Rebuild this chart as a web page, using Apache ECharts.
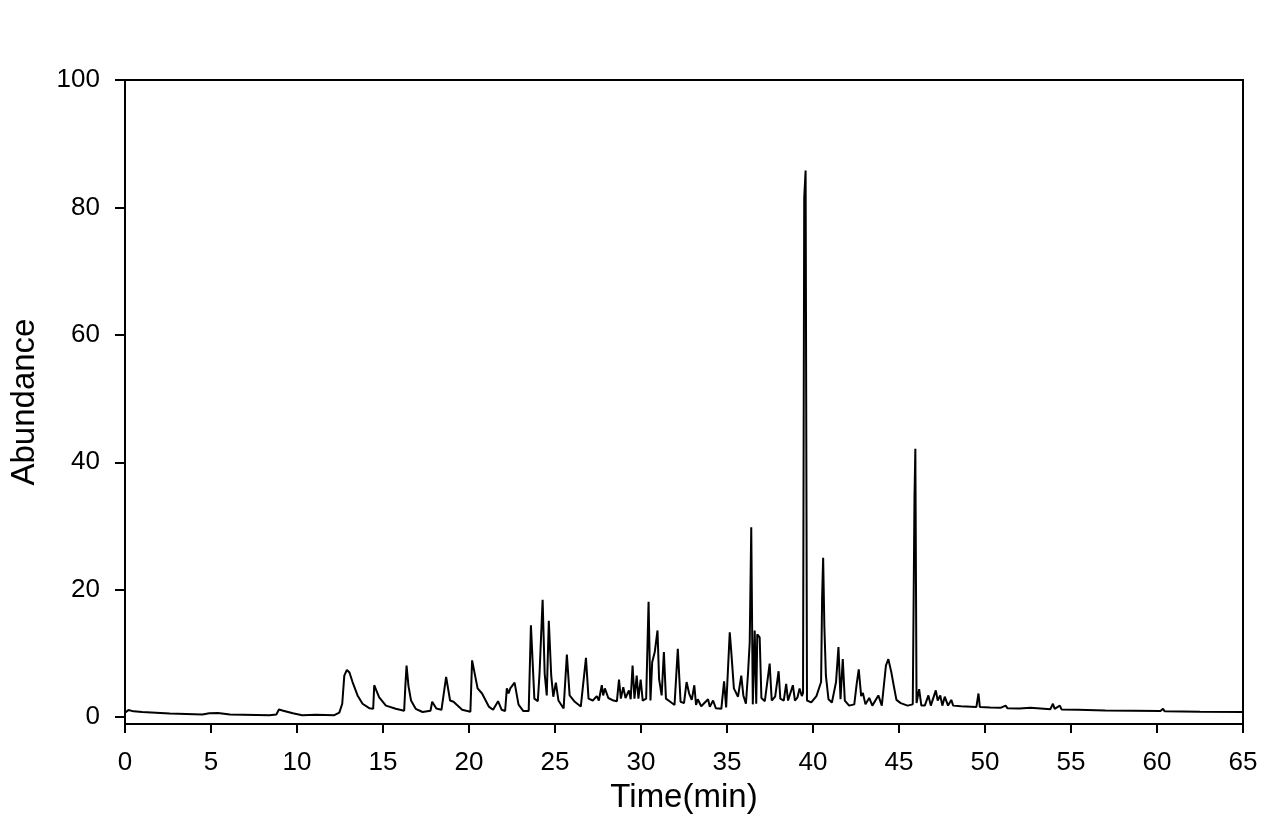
<!DOCTYPE html>
<html>
<head>
<meta charset="utf-8">
<script src="https://cdn.jsdelivr.net/npm/echarts@6/dist/echarts.min.js"></script>
<style>
html,body{margin:0;padding:0;background:#fff;}
#chart{width:1284px;height:819px;}
</style>
</head>
<body>
<div id="chart"></div>
<script>
// Retention time (min)
const retentionTime = [
 0, 0.2, 0.5, 1.0, 2.6, 4.5, 4.9, 5.4, 6.1, 8.4, 8.8, 8.95, 9.2, 9.76, 10.3, 11.1, 12.17, 12.46, 12.63, 12.75,
 12.9, 13.05, 13.23, 13.52, 13.81, 14.2, 14.43, 14.49, 14.58, 14.78, 15.17, 15.74, 16.23, 16.3, 16.37, 16.48, 16.63, 16.9, 17.3, 17.76,
 17.86, 18.1, 18.4, 18.67, 18.9, 19.1, 19.6, 20.08, 20.18, 20.5, 20.76, 21.15, 21.4, 21.69, 21.9, 22.1, 22.2, 22.3, 22.4, 22.65,
 22.88, 23.16, 23.47, 23.6, 23.8, 24.0, 24.1, 24.28, 24.4, 24.52, 24.64, 24.78, 24.9, 25.05, 25.2, 25.5, 25.69, 25.85, 26.15, 26.5,
 26.8, 26.95, 27.2, 27.43, 27.55, 27.72, 27.8, 27.9, 28.1, 28.4, 28.6, 28.72, 28.83, 28.97, 29.1, 29.3, 29.4, 29.51, 29.62, 29.75,
 29.85, 29.98, 30.1, 30.3, 30.44, 30.55, 30.65, 30.8, 30.96, 31.05, 31.2, 31.33, 31.45, 31.7, 31.95, 32.14, 32.3, 32.5, 32.65, 32.8,
 32.95, 33.1, 33.2, 33.3, 33.5, 33.9, 34.0, 34.19, 34.35, 34.67, 34.83, 34.95, 35.16, 35.25, 35.4, 35.64, 35.83, 35.95, 36.1, 36.22,
 36.32, 36.41, 36.5, 36.61, 36.7, 36.76, 36.9, 37.0, 37.2, 37.48, 37.6, 37.8, 38.0, 38.1, 38.3, 38.44, 38.55, 38.83, 38.95, 39.1,
 39.22, 39.35, 39.42, 39.49, 39.57, 39.65, 39.9, 40.2, 40.47, 40.53, 40.59, 40.66, 40.75, 40.9, 41.1, 41.34, 41.48, 41.6, 41.73, 41.85,
 42.1, 42.4, 42.54, 42.66, 42.8, 42.9, 43.05, 43.27, 43.45, 43.8, 44.0, 44.24, 44.38, 44.55, 44.69, 44.85, 45.1, 45.5, 45.8, 45.9,
 45.95, 46.02, 46.17, 46.3, 46.5, 46.71, 46.85, 47.14, 47.25, 47.4, 47.52, 47.66, 47.85, 48.04, 48.15, 48.6, 49.5, 49.62, 49.7, 50.3,
 50.9, 51.2, 51.3, 52.0, 52.65, 53.8, 53.95, 54.05, 54.35, 54.45, 55.4, 57.0, 58.6, 60.2, 60.35, 60.45, 62.5, 65
];
// Abundance at each retention time
const abundance = [
 0.7, 1.1, 0.9, 0.8, 0.55, 0.4, 0.6, 0.65, 0.4, 0.3, 0.4, 1.2, 1.0, 0.6, 0.3, 0.35, 0.3, 0.7, 2.1, 6.5,
 7.4, 7.0, 5.5, 3.4, 2.1, 1.4, 1.3, 5.0, 4.4, 3.1, 1.8, 1.3, 1.0, 4.9, 8.1, 4.9, 2.6, 1.3, 0.8, 1.0,
 2.4, 1.35, 1.15, 6.3, 2.6, 2.4, 1.15, 0.85, 8.9, 4.5, 3.7, 1.65, 1.15, 2.5, 1.15, 0.95, 4.5, 3.7, 4.5, 5.4,
 1.95, 0.95, 0.95, 14.4, 2.9, 2.5, 6.8, 18.4, 6.8, 3.4, 15.1, 6.5, 3.2, 5.4, 2.6, 1.35, 9.8, 3.4, 2.4, 1.65,
 9.3, 2.9, 2.6, 3.3, 2.6, 5.0, 3.4, 4.5, 3.0, 2.6, 2.5, 5.9, 2.9, 4.7, 3.0, 4.2, 2.8, 8.1, 2.9, 6.5,
 2.9, 5.9, 2.6, 2.9, 18.1, 2.6, 8.6, 10.2, 13.6, 6.0, 3.4, 10.2, 2.9, 2.4, 1.9, 10.7, 2.4, 2.2, 5.5, 3.7,
 2.7, 5.0, 1.9, 2.8, 1.7, 2.8, 1.6, 2.6, 1.4, 1.3, 5.6, 1.5, 13.3, 10.2, 4.5, 3.2, 6.5, 3.4, 2.1, 6.8,
 11.7, 29.8, 2.0, 13.6, 2.1, 13.0, 12.5, 3.0, 2.5, 8.4, 2.6, 3.2, 7.2, 2.9, 2.6, 5.2, 2.6, 5.0, 2.6, 3.1,
 4.5, 3.3, 3.8, 81.5, 85.8, 2.6, 2.3, 3.3, 5.5, 18.8, 25.0, 14.3, 6.5, 2.8, 2.3, 5.5, 11.0, 2.8, 9.1, 2.6,
 1.8, 2.0, 5.2, 7.5, 3.3, 3.8, 2.0, 3.0, 1.8, 3.4, 1.8, 8.1, 9.1, 7.1, 5.0, 2.7, 2.2, 1.8, 2.0, 34.3,
 42.1, 2.2, 4.4, 1.8, 1.8, 3.4, 1.8, 4.2, 2.6, 3.4, 1.8, 3.2, 1.8, 2.7, 1.8, 1.7, 1.6, 3.7, 1.6, 1.5,
 1.45, 1.8, 1.4, 1.35, 1.45, 1.25, 2.1, 1.3, 1.8, 1.2, 1.15, 1.05, 1.0, 0.95, 1.3, 0.9, 0.85, 0.8
];
const yTickValues = [0, 20, 40, 60, 80, 100];

const points = retentionTime.map((t, i) => [t, abundance[i]]);
const FONT = '"Liberation Sans", Arial, sans-serif';

const chart = echarts.init(document.getElementById('chart'), null, {renderer: 'canvas'});
chart.setOption({
  animation: false,
  backgroundColor: '#fff',
  grid: {left: 122, right: 41, top: 80, height: 649, show: true, borderColor: '#000', borderWidth: 2, backgroundColor: 'transparent'},
  xAxis: {
    type: 'value', min: 0, max: 65, interval: 5,
    name: 'Time(min)', nameLocation: 'middle', nameGap: 51,
    nameTextStyle: {fontFamily: FONT, fontSize: 33, color: '#000'},
    axisLine: {show: true, onZero: false, lineStyle: {color: '#000', width: 2}},
    axisTick: {show: true, length: 9, lineStyle: {color: '#000', width: 2}},
    axisLabel: {fontFamily: FONT, fontSize: 26, color: '#000', margin: 26},
    splitLine: {show: false}
  },
  yAxis: {
    type: 'value', min: -1.1, max: 100,
    name: 'Abundance', nameLocation: 'middle', nameGap: 84,
    nameTextStyle: {fontFamily: FONT, fontSize: 33, color: '#000'},
    axisLine: {show: true, onZero: false, lineStyle: {color: '#000', width: 2}},
    axisTick: {show: true, length: 10, customValues: yTickValues, lineStyle: {color: '#000', width: 2}},
    axisLabel: {fontFamily: FONT, fontSize: 26, color: '#000', margin: 25, customValues: yTickValues},
    splitLine: {show: false}
  },
  series: [{
    type: 'line', data: points, showSymbol: false, symbol: 'none',
    lineStyle: {color: '#000', width: 2}, z: 3
  }]
});
</script>
</body>
</html>
